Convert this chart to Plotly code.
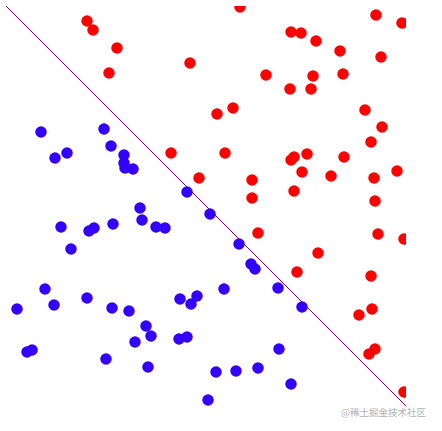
import plotly.graph_objects as go

# Canvas coordinates (0..400, y grows downward)
red_x = [81, 87, 111, 103, 184, 211, 165, 193, 219, 234, 370, 396, 285, 295, 310, 334, 375,
         260, 307, 337, 284, 305, 227, 359, 376, 365, 288, 285, 301, 338, 296, 325, 368, 391,
         246, 246, 288, 369, 252, 372, 398, 312, 291, 365, 366, 353, 369, 363, 398]
red_y = [15, 24, 42, 67, 57, 108, 147, 172, 147, 1, 9, 17, 26, 27, 35, 45, 51,
         69, 70, 68, 83, 83, 102, 104, 121, 136, 151, 154, 148, 151, 166, 170, 172, 165,
         174, 192, 185, 195, 227, 228, 233, 247, 266, 270, 303, 309, 343, 348, 386]

blue_x = [35, 98, 105, 61, 49, 118, 118, 119, 127, 181, 134, 204, 55, 83, 88, 107, 136, 150,
          159, 65, 39, 11, 48, 81, 106, 123, 174, 191, 185, 140, 145, 129, 173, 181, 21, 26,
          100, 142, 210, 202, 233, 245, 249, 218, 272, 296, 273, 230, 252, 285]
blue_y = [126, 123, 140, 147, 152, 149, 157, 162, 163, 186, 202, 208, 221, 225, 222, 218, 214, 221,
          222, 243, 283, 303, 299, 292, 302, 305, 293, 290, 298, 320, 330, 336, 333, 331, 346, 344,
          353, 361, 366, 394, 238, 258, 263, 283, 282, 301, 343, 365, 362, 378]

line_x = [0, 400]
line_y = [0, 400]

fig = go.Figure()
fig.add_trace(go.Scatter(x=line_x, y=line_y, mode="lines",
                         line=dict(color="#800080", width=1), hoverinfo="skip"))
fig.add_trace(go.Scatter(x=red_x, y=red_y, mode="markers",
                         marker=dict(color="#ff0000", size=11.5, line=dict(width=0))))
fig.add_trace(go.Scatter(x=blue_x, y=blue_y, mode="markers",
                         marker=dict(color="#3300ff", size=11.5, line=dict(width=0))))

fig.update_layout(
    width=442, height=431,
    margin=dict(l=6, r=36, t=6, b=25),
    paper_bgcolor="white", plot_bgcolor="white",
    showlegend=False,
    xaxis=dict(range=[0, 400], visible=False, fixedrange=True),
    yaxis=dict(range=[400, 0], visible=False, fixedrange=True),
    annotations=[dict(text="@稀土掘金技术社区", xref="paper", yref="paper",
                      x=1.055, y=-0.015, xanchor="right", yanchor="middle",
                      showarrow=False,
                      font=dict(family="Noto Sans CJK SC", size=9.5, color="#b0b0b0"))],
)

fig.write_html("out.html", config={"displayModeBar": False},
               post_script="document.body.style.margin='0';document.body.style.overflow='hidden';")
